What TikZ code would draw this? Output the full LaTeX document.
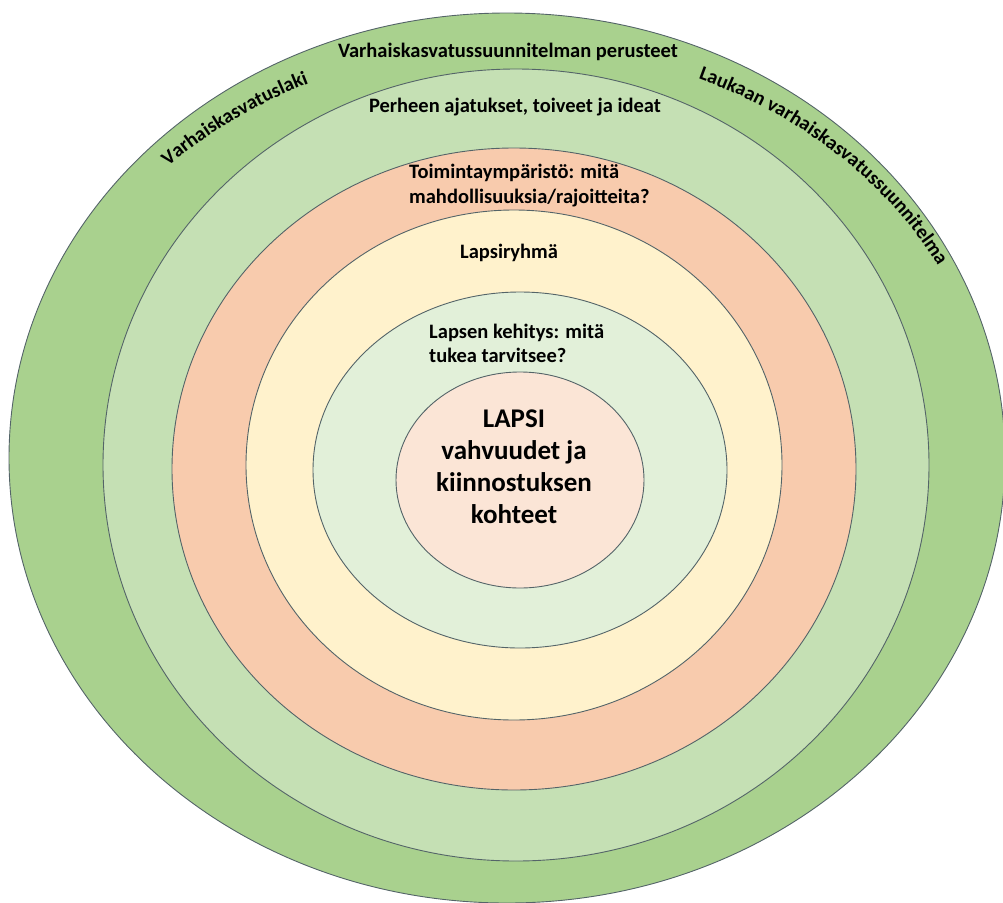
\documentclass[tikz,border=0pt]{standalone}
\usepackage{fontspec}
\setmainfont{Carlito}
\usetikzlibrary{decorations.text}

\definecolor{ringline}{RGB}{84,100,104}
\definecolor{lakiring}{HTML}{A9D18E}
\definecolor{perhering}{HTML}{C5E0B4}
\definecolor{ymparring}{HTML}{F8CBAD}
\definecolor{ryhmaring}{HTML}{FFF2CC}
\definecolor{kehring}{HTML}{E2F0D9}
\definecolor{lapsiring}{HTML}{FBE5D6}
\newcommand\curvefont{\bfseries\fontsize{20}{24}\selectfont}

\begin{document}
\begin{tikzpicture}[x=1pt,y=1pt,
	ring/.style={draw=ringline, line width=0.9pt},
	lbl/.style={font=\bfseries\fontsize{20.5}{24}\selectfont, inner sep=0pt},
	biglbl/.style={font=\bfseries\fontsize{27}{32}\selectfont, inner sep=0pt, align=center},
	curved/.style={decorate, decoration={text along path, text align=center, text={|\curvefont|#1}}}]
	\useasboundingbox (0,0) rectangle (1003,-902);

	\path[ring, fill=lakiring] (507,-458) ellipse [x radius=498, y radius=445];
	\path[ring, fill=perhering] (516,-465) ellipse [x radius=413, y radius=396];
	\path[ring, fill=ymparring] (514,-469) ellipse [x radius=342, y radius=321];
	\path[ring, fill=ryhmaring] (514,-465) ellipse [x radius=268, y radius=255];
	\path[ring, fill=kehring] (520,-470) ellipse [x radius=207, y radius=178];
	\path[ring, fill=lapsiring] (520,-480) ellipse [x radius=124, y radius=108];

	\path (508,-57) node[lbl, anchor=base](perusteet){Varhaiskasvatussuunnitelman perusteet}
		(515,-112) node[lbl, anchor=base](perhe){Perheen ajatukset, toiveet ja ideat}
		(409,-203) node[lbl, anchor=base west, align=left](ymparisto){Toimintaympäristö: mitä\\[1pt]mahdollisuuksia/rajoitteita?}
		(509,-258) node[lbl, anchor=base](ryhma){Lapsiryhmä}
		(429,-362) node[lbl, anchor=base west, align=left](kehitys){Lapsen kehitys: mitä\\tukea tarvitsee?}
		(514,-523) node[biglbl, anchor=base](lapsi){LAPSI\\vahvuudet ja\\kiinnostuksen\\kohteet};

	\path[curved=Varhaiskasvatuslaki] (510,-461) ++(145:485 and 415)
		arc[start angle=145, end angle=105, x radius=485, y radius=415];
	\path[curved=Laukaan varhaiskasvatussuunnitelma] (510,-461) ++(77:485 and 415)
		arc[start angle=77, end angle=17, x radius=485, y radius=415];
\end{tikzpicture}
\end{document}
